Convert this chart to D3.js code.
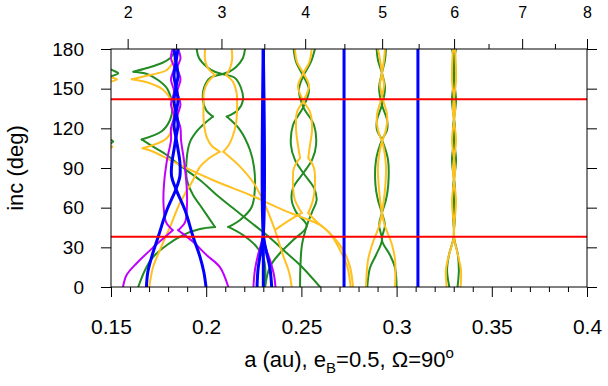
<!DOCTYPE html>
<html><head><meta charset="utf-8">
<script src="https://cdn.jsdelivr.net/npm/d3@7"></script>
<style>body{margin:0;background:#fff}svg{display:block}text{font-family:"Liberation Sans",Arial,sans-serif;fill:#000}</style>
</head><body><svg id="c" width="608" height="386"></svg>
<script>
// ---------- axes data ----------
const xTicks = [0.15, 0.2, 0.25, 0.3, 0.35, 0.4];
const yTicks = [0, 30, 60, 90, 120, 150, 180];
const periodTicks = [2, 3, 4, 5, 6, 7, 8];
const periodMinorTicks = [2.5, 3.5, 4.5, 5.5, 6.5, 7.5];
const kozaiInc = [38, 142];
const aRef = 0.1; // a at period ratio 1 (a = aRef * P^(2/3))

// ---------- green curves [a, inc] ----------
const gA1 = [[.1484,165.2],[.1510,163.8],[.1538,161.6],[.1510,159.8],[.1484,159.0]];
const gA2a = [[.1841,180],[.1831,177],[.1810,173],[.1768,169.4],[.1689,165.6],[.1618,162.8]];
const gA2b = [[.1618,162.8],[.1689,161.1],[.1747,156.6],[.1793,150.5],[.1815,142.9],[.1823,135.4],[.1810,126.3],[.1768,118],[.1661,111.6]];
const gA2c = [[.1661,111.6],[.1721,106.1],[.1793,99.8],[.1871,91],[.1967,80.9],[.2055,69.6],[.2142,59.5],[.2230,49.4],[.2318,39.3],[.2405,28],[.2493,16.6],[.2598,0]];
const gA3 = [[.1488,112],[.1512,110],[.1488,108]];
const g31UL = [[.1950,180],[.1962,173.2],[.2004,166.4],[.2046,162.8],[.2086,161.1],[.2151,158.1],[.2183,150.5],[.2193,141.4],[.2167,133.9],[.2108,128.9]];
const g31UR = [[.2204,180],[.2193,173.2],[.2157,166.4],[.2120,162.8],[.2086,161.1],[.2020,158.1],[.1988,150.5],[.1983,141.4],[.1999,133.9],[.2036,128.9]];
const g31ML = [[.2036,128.9],[.1994,124],[.1952,118],[.1915,109.7],[.1897,96.1],[.1899,80.9],[.1931,69.6],[.1967,62],[.2046,45.4]];
const g31MR = [[.2108,128.9],[.2178,118.7],[.2230,103.6],[.2251,90.8],[.2256,75.6],[.2239,60.5],[.2178,50.7],[.2116,45.4]];
const g31LL = [[.2046,45.4],[.1967,43.9],[.1878,39.3],[.1794,31.8],[.1721,22.7],[.1679,12.9],[.1643,0]];
const g31LR = [[.2116,45.4],[.2193,39.3],[.2265,30.3],[.2304,20.4],[.2309,0]];
const g41a = [[.2459,180],[.2472,170.2],[.2510,159.6],[.2540,149],[.2510,136.1],[.2456,122.5],[.2445,107.4],[.2466,96.1],[.2510,86.2],[.2566,74.9],[.2580,65.8],[.2556,56.7],[.2528,46.1],[.2503,31.8],[.2495,16.6],[.2493,0]];
const g41b = [[.2571,180],[.2550,170.2],[.2510,159.6],[.2487,149],[.2510,136.1],[.2566,122.5],[.2577,107.4],[.2556,96.1],[.2510,86.2],[.2456,74.9],[.2449,65.8],[.2472,56.7],[.2528,46.1],[.2457,35.5],[.2388,25.7],[.2335,15.4],[.2309,0]];
const g51a = [[.2895,180],[.2902,171.7],[.2923,161.8],[.2939,150.5],[.2923,137.6],[.2897,126.3],[.2897,118.7],[.2923,111.2],[.2955,96.1],[.2956,77.1],[.2944,65.8],[.2923,56],[.2908,46.9],[.2923,35.5],[.2892,24.2],[.2860,14.4],[.2846,0]];
const g51b = [[.2944,180],[.2939,171.7],[.2923,161.8],[.2908,150.5],[.2923,137.6],[.2950,126.3],[.2950,118.7],[.2923,111.2],[.2892,96.1],[.2889,77.1],[.2902,65.8],[.2923,56],[.2939,46.9],[.2923,35.5],[.2965,24.2],[.2992,14.4],[.3000,0]];
const g61a = [[.3291,180],[.3307,164.1],[.3291,141.4],[.3307,118.7],[.3291,96.1],[.3307,73.4],[.3296,54.5],[.3301,38.6],[.3275,24.2],[.3265,12.9],[.3277,0]];
const g61b = [[.3312,180],[.3296,164.1],[.3312,141.4],[.3296,118.7],[.3312,96.1],[.3296,73.4],[.3307,54.5],[.3301,38.6],[.3322,24.2],[.3327,12.9],[.3320,0]];

// ---------- orange curves ----------
const oA1 = [[.1484,158.8],[.1505,158.3],[.1531,157.1],[.1505,155.5],[.1484,155.0]];
const oA2a = [[.1841,180],[.1831,171.7],[.1793,164.1],[.1705,160.3],[.1609,157.1]];
const oA2b = [[.1609,157.1],[.1705,154.1],[.1775,149],[.1810,142.7],[.1826,133.9],[.1826,122.5],[.1793,112.5],[.1666,104.9]];
const oA2c = [[.1666,104.9],[.1722,102.3],[.1793,97.3],[.1880,91],[.2055,79.6],[.2230,69.6],[.2405,58.2],[.2493,53.2],[.2598,46.9],[.2666,38],[.2719,28],[.2755,15.4],[.2771,0]];
const oA3 = [[.1488,107.5],[.1508,106],[.1488,104.5]];
const o31UL = [[.1994,180],[.1994,171.7],[.2009,165.6],[.2046,160.3]];
const o31UR = [[.2134,180],[.2136,171.7],[.2125,165.6],[.2104,160.3]];
const o31ML = [[.2046,160.3],[.2009,155],[.1988,147.5],[.1986,141.4],[.1988,124],[.2004,112.7],[.2030,106.6],[.2072,102.3]];
const o31MR = [[.2104,160.3],[.2141,155],[.2159,147.5],[.2162,141.4],[.2157,124],[.2136,112.7],[.2115,106.6],[.2090,102.3]];
const o31LL = [[.2072,102.3],[.2004,96.1],[.1967,90.8],[.1931,80.9],[.1862,63.5],[.1810,45.4],[.1757,28],[.1721,15.1],[.1701,0]];
const o31LR = [[.2090,102.3],[.2178,91],[.2256,77.1],[.2309,62],[.2361,43.1],[.2403,24.2],[.2435,11.3],[.2449,0]];
const o41a = [[.2466,180],[.2477,170.2],[.2510,161.8],[.2540,152],[.2510,140.7],[.2477,132.4],[.2472,118.7],[.2482,107.4],[.2493,97.6]];
const o41b = [[.2554,180],[.2542,170.2],[.2510,161.8],[.2482,152],[.2510,140.7],[.2545,132.4],[.2556,118.7],[.2545,107.4],[.2536,97.6]];
const o41c = [[.2493,97.6],[.2461,90],[.2456,77.1],[.2466,65.8],[.2502,56]];
const o41d = [[.2536,97.6],[.2566,90],[.2571,77.1],[.2561,65.8],[.2536,56]];
const o41e = [[.2536,56],[.2580,49.4],[.2650,40.6],[.2703,28],[.2741,15.4],[.2759,0]];
const o41f = [[.2502,56],[.2440,50.7],[.2390,46],[.2361,43.1]];
const o51a = [[.2902,180],[.2913,171.7],[.2923,161.8],[.2934,152.8],[.2918,141.4],[.2897,130.1],[.2902,118.7],[.2929,107.4],[.2944,92.3],[.2939,73.4],[.2923,56],[.2908,46.1],[.2871,31.8],[.2850,20.4],[.2839,0]];
const o51b = [[.2939,180],[.2934,171.7],[.2923,161.8],[.2913,152.8],[.2929,141.4],[.2950,130.1],[.2944,118.7],[.2918,107.4],[.2902,92.3],[.2908,73.4],[.2923,56],[.2939,46.1],[.2976,31.8],[.2992,20.4],[.2992,0]];
const o61a = [[.3296,180],[.3291,156.6],[.3307,133.9],[.3291,111.2],[.3307,88.5],[.3291,65.8],[.3301,38.6],[.3275,24.2],[.3259,12.9],[.3263,0]];
const o61b = [[.3307,180],[.3312,156.6],[.3296,133.9],[.3312,111.2],[.3296,88.5],[.3312,65.8],[.3301,38.6],[.3322,24.2],[.3338,12.9],[.3336,0]];

// ---------- purple curves ----------
const p25a = [[.1823,180],[.1815,173],[.1831,166],[.1815,157],[.1831,148],[.1815,138],[.1831,129],[.1815,120],[.1815,111],[.1794,96],[.1778,77],[.1776,62],[.1789,49],[.1824,43]];
const p25b = [[.1824,43],[.1793,39],[.1722,30],[.1635,18],[.1582,9],[.1563,0]];
const p25c = [[.1852,180],[.1865,173],[.1849,166],[.1865,157],[.1849,148],[.1865,138],[.1849,129],[.1865,120],[.1868,111],[.1883,96],[.1897,77],[.1899,62],[.1889,49],[.1853,43]];
const p25d = [[.1853,43],[.1862,42],[.1932,34],[.2003,24],[.2072,15],[.2116,0]];
const p35a = [[.2300,45],[.2293,35.5],[.2272,24.2],[.2256,12.9],[.2248,0]];
const p35b = [[.2300,45],[.2309,31.8],[.2335,20.4],[.2356,9.1],[.2364,0]];

// ---------- blue curves ----------
const b25a = [[.1831,180],[.1841,170],[.1852,160],[.1841,151],[.1831,141],[.1841,132],[.1852,123],[.1841,113],[.1831,104],[.1820,94],[.1818,84],[.1841,74],[.1889,58],[.1931,38],[.1967,23],[.1988,11],[.1999,0]];
const b25b = [[.1852,180],[.1841,170],[.1831,160],[.1841,151],[.1852,141],[.1841,132],[.1831,123],[.1841,113],[.1852,104],[.1862,94],[.1862,84],[.1841,74],[.1793,58],[.1748,38],[.1714,23],[.1693,11],[.1686,0]];
const b35a = [[.2300,180],[.2300,40],[.2283,24],[.2272,13],[.2267,0]];
const b35b = [[.2300,180],[.2300,40],[.2314,28],[.2335,14],[.2344,0]];
const b35c = [[.2300,180],[.2300,0]];
const b45 = [[.2724,180],[.2724,0]];
const b55 = [[.3112,180],[.3112,0]];

const greenCurves = [gA1,gA2a,gA2b,gA2c,gA3,g31UL,g31UR,g31ML,g31MR,g31LL,g31LR,g41a,g41b,g51a,g51b,g61a,g61b];
const orangeCurves = [oA1,oA2a,oA2b,oA2c,oA3,o31UL,o31UR,o31ML,o31MR,o31LL,o31LR,o41a,o41b,o41c,o41d,o41e,o41f,o51a,o51b,o61a,o61b];
const purpleCurves = [p25a,p25b,p25c,p25d,p35a,p35b];
const blueCurves = [b25a,b25b,b35a,b35b,b35c,b45,b55];

// ---------- layout ----------
const W = 608, H = 386;
const m = {l:111, r:21, t:49, b:99};
const w = W - m.l - m.r, h = H - m.t - m.b;
const svg = d3.select("#c");
const g = svg.append("g").attr("transform", `translate(${m.l},${m.t})`);

const x = d3.scaleLinear().domain([0.15, 0.4]).range([0, w]);
const y = d3.scaleLinear().domain([0, 180]).range([h, 0]);
const pOf = a => Math.pow(a / aRef, 1.5);
const xp = d3.scalePow().exponent(2/3).domain([pOf(0.15), pOf(0.4)]).range([0, w]);

svg.append("defs").append("clipPath").attr("id","clip")
  .append("rect").attr("width", w).attr("height", h);

const line = d3.line().x(d => x(d[0])).y(d => y(d[1])).curve(d3.curveCatmullRom.alpha(0.5));
const plot = g.append("g").attr("clip-path","url(#clip)");
function draw(curves, color, width){
  plot.append("g").selectAll("path").data(curves).join("path")
    .attr("d", line).attr("fill","none").attr("stroke", color)
    .attr("stroke-width", width).attr("stroke-linejoin","round").attr("stroke-linecap","round");
}
draw(greenCurves, "#228b22", 2);
draw(orangeCurves, "#ffc020", 2);
draw(purpleCurves, "#c000ff", 2);
draw(blueCurves, "#0000ff", 3);

plot.append("g").selectAll("line").data(kozaiInc).join("line")
  .attr("x1",0).attr("x2",w).attr("y1",d=>y(d)).attr("y2",d=>y(d))
  .attr("stroke","#ff0000").attr("stroke-width",2);

// ---------- axes ----------
function style(sel, fs){
  sel.select(".domain").remove();
  sel.selectAll(".tick line").attr("stroke","#000").attr("stroke-width",1);
  sel.selectAll("text").attr("font-size", fs).attr("font-family","Liberation Sans, Arial, sans-serif");
}
const minorX = d3.range(15, 41).map(v => v/100).filter(v => !xTicks.some(t => Math.abs(t-v) < 1e-9));
g.append("g").attr("transform",`translate(0,${h})`)
  .call(d3.axisBottom(x).tickValues(minorX).tickSize(5).tickFormat(""))
  .call(s => style(s, 21));
g.append("g").attr("transform",`translate(0,${h})`)
  .call(d3.axisBottom(x).tickValues(xTicks).tickSize(10).tickPadding(22).tickFormat(d => String(d)))
  .call(s => style(s, 21));
g.append("g")
  .call(d3.axisLeft(y).tickValues(yTicks).tickSize(10).tickPadding(17).tickFormat(d => String(d)))
  .call(s => style(s, 19));
g.append("g").attr("transform",`translate(${w},0)`)
  .call(d3.axisRight(y).tickValues(yTicks).tickSize(10).tickFormat(""))
  .call(s => style(s, 19));
g.append("g")
  .call(d3.axisTop(xp).tickValues(periodMinorTicks).tickSize(5).tickFormat(""))
  .call(s => style(s, 16));
g.append("g")
  .call(d3.axisTop(xp).tickValues(periodTicks).tickSize(10).tickPadding(21).tickFormat(d => String(d)))
  .call(s => style(s, 16));

g.append("rect").attr("width", w).attr("height", h).attr("fill","none").attr("stroke","#000").attr("stroke-width",1);

// ---------- titles ----------
const xt = svg.append("text").attr("x", m.l + w/2).attr("y", 367).attr("text-anchor","middle").attr("font-size",22);
xt.append("tspan").text("a (au), e");
xt.append("tspan").attr("font-size",15).attr("dy",6).text("B");
xt.append("tspan").attr("dy",-6).text("=0.5, Ω=90");
xt.append("tspan").attr("font-size",15).attr("dy",-9).text("o");
svg.append("text").attr("transform",`translate(23,${m.t + h/2}) rotate(-90)`)
  .attr("text-anchor","middle").attr("font-size",22).text("inc (deg)");
</script></body></html>
